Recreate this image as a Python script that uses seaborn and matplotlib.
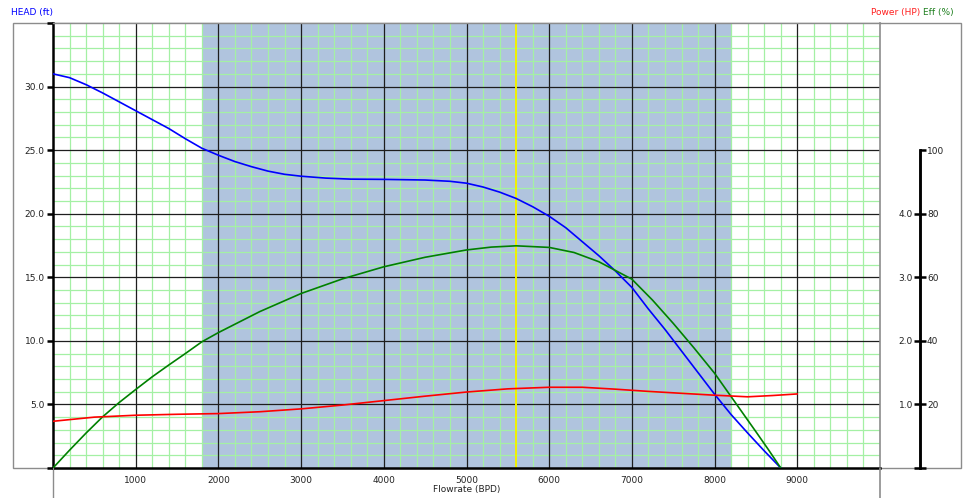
import matplotlib
matplotlib.use('Agg')
import matplotlib.pyplot as plt
from matplotlib.patches import Rectangle
from matplotlib.lines import Line2D
from matplotlib.ticker import MultipleLocator
import pandas as pd
import seaborn as sns

# pump curve data
head_q = [0, 200, 400, 600, 800, 1000, 1200, 1400, 1600, 1800, 2000, 2200, 2400, 2600, 2800,
          3000, 3300, 3600, 4000, 4500, 4800, 5000, 5200, 5400, 5600, 5800, 6000, 6200, 6400,
          6600, 6800, 7000, 7200, 7400, 7600, 7800, 8000, 8200, 8400, 8600, 8800]
head_ft = [31.0, 30.7, 30.15, 29.5, 28.8, 28.1, 27.4, 26.7, 25.9, 25.15, 24.6, 24.1, 23.7, 23.35, 23.1,
           22.95, 22.8, 22.72, 22.7, 22.65, 22.55, 22.4, 22.1, 21.7, 21.2, 20.55, 19.8, 18.9, 17.8,
           16.7, 15.5, 14.2, 12.5, 10.9, 9.2, 7.5, 5.8, 4.2, 2.75, 1.35, 0.0]

eff_q = [0, 200, 400, 600, 800, 1000, 1200, 1400, 1600, 1800, 2000, 2500, 3000, 3500, 4000, 4500,
         5000, 5300, 5600, 6000, 6300, 6600, 7000, 7250, 7500, 7750, 8000, 8250, 8500, 8650, 8800]
eff_pct = [0, 5.6, 11.0, 16.1, 20.6, 24.7, 28.7, 32.4, 36.0, 39.7, 42.6, 49.2, 54.9, 59.5, 63.3, 66.3,
           68.6, 69.5, 69.9, 69.4, 67.8, 64.9, 59.4, 52.8, 45.5, 37.8, 29.8, 20.6, 11.4, 5.8, 0.0]

power_q = [0, 500, 1000, 1500, 2000, 2500, 3000, 3500, 4000, 4500, 5000, 5500, 6000, 6400, 6800,
           7200, 7600, 8000, 8400, 8700, 9000]
power_hp = [0.735, 0.80, 0.83, 0.845, 0.856, 0.885, 0.93, 0.99, 1.06, 1.13, 1.195, 1.245, 1.27, 1.27, 1.24,
            1.205, 1.175, 1.145, 1.12, 1.14, 1.165]

range_min = 1800
range_max = 8200
bep_q = 5600

x_ticks = list(range(0, 10001, 1000))
x_labels = [''] + [str(v) for v in range(1000, 10000, 1000)] + ['']
y_ticks = list(range(0, 36, 5))
y_labels = [''] + ['%.1f' % v for v in range(5, 35, 5)] + ['']
p_ticks = [0, 1, 2, 3, 4]
p_labels = ['', '1.0', '2.0', '3.0', '4.0']
e_ticks = [0, 20, 40, 60, 80, 100]
e_labels = ['', '20', '40', '60', '80', '100']

head_df = pd.DataFrame({'q': head_q, 'head': head_ft})
eff_df = pd.DataFrame({'q': eff_q, 'eff': eff_pct})
power_df = pd.DataFrame({'q': power_q, 'power': power_hp})

sns.set_style('white')
plt.rcParams['font.family'] = ['DejaVu Sans']
plt.rcParams['font.size'] = 6.5

W, H = 970, 498
fig = plt.figure(figsize=(W / 100, H / 100), dpi=100)


def fx(px):
    return px / W


def fy(py):
    return 1 - py / H


txt = '#222222'
frame = '#8c8c8c'

# outer frame and the lines running below the plot
fig.add_artist(Rectangle((fx(13), fy(468)), 948 / W, 445 / H, transform=fig.transFigure,
                         fill=False, ec=frame, lw=1, zorder=-1))
fig.add_artist(Line2D([fx(53), fx(53)], [fy(468), 0], transform=fig.transFigure, color=frame, lw=1))
fig.add_artist(Line2D([fx(880), fx(880)], [fy(468), 0], transform=fig.transFigure, color=frame, lw=1.2))

ax = fig.add_axes([fx(53), fy(468), (880 - 53) / W, (468 - 23) / H])
ax.set_xlim(0, 10000)
ax.set_ylim(0, 35)

ax.xaxis.set_minor_locator(MultipleLocator(200))
ax.yaxis.set_minor_locator(MultipleLocator(1))
ax.grid(which='minor', color='#a4f0a4', lw=0.9)
ax.tick_params(which='minor', length=0)

ax.axvspan(range_min, range_max, color='#b0c4de', lw=0, zorder=0.2)
for v in x_ticks[1:-1]:
    ax.axvline(v, color='#1e1e1e', lw=0.9, zorder=0.7)
for v in y_ticks[1:-1]:
    ax.axhline(v, color='#1e1e1e', lw=0.9, zorder=0.7)
ax.axvline(bep_q, color='#f2f200', lw=1.4, zorder=1.5)

sns.lineplot(data=head_df, x='q', y='head', ax=ax, color='#0000ff', lw=1.2, zorder=3)

ax.set_xticks(x_ticks)
ax.set_xticklabels(x_labels)
ax.set_yticks(y_ticks)
ax.set_yticklabels(y_labels)
ax.tick_params(which='major', length=4, width=1.8, color='black', direction='out',
               pad=2, labelsize=6.5, labelcolor=txt)
ax.set_xlabel('Flowrate (BPD)', fontsize=6.5, color=txt, labelpad=0)
ax.set_ylabel('')

for side in ['left', 'bottom']:
    ax.spines[side].set_color('black')
    ax.spines[side].set_linewidth(1.8)
ax.spines['top'].set_color(frame)
ax.spines['top'].set_linewidth(1)
ax.spines['right'].set_color(frame)
ax.spines['right'].set_linewidth(1.2)

# secondary scales: efficiency and power, both on the axis at x=920 px
axis_pos = (920 - 53) / (880 - 53)

ax_e = ax.twinx()
ax_e.set_ylim(0, 140)
sns.lineplot(data=eff_df, x='q', y='eff', ax=ax_e, color='#008000', lw=1.2)
ax_e.set_ylabel('')
for s in ax_e.spines.values():
    s.set_visible(False)
ax_e.spines['right'].set_visible(True)
ax_e.spines['right'].set_position(('axes', axis_pos))
ax_e.spines['right'].set_bounds(0, 100)
ax_e.spines['right'].set_color('black')
ax_e.spines['right'].set_linewidth(1.8)
ax_e.set_yticks(e_ticks)
ax_e.set_yticklabels(e_labels)
ax_e.tick_params(axis='y', length=4, width=1.8, color='black', direction='out',
                 pad=1, labelsize=6.5, labelcolor=txt)

ax_p = ax.twinx()
ax_p.set_ylim(0, 7)
sns.lineplot(data=power_df, x='q', y='power', ax=ax_p, color='#ff0000', lw=1.2)
ax_p.set_ylabel('')
for s in ax_p.spines.values():
    s.set_visible(False)
ax_p.yaxis.tick_left()
ax_p.spines['left'].set_visible(True)
ax_p.spines['left'].set_position(('axes', axis_pos))
ax_p.spines['left'].set_bounds(0, 5)
ax_p.spines['left'].set_color('black')
ax_p.spines['left'].set_linewidth(1.8)
ax_p.set_yticks(p_ticks)
ax_p.set_yticklabels(p_labels)
ax_p.tick_params(axis='y', length=4, width=1.8, color='black', direction='out',
                 pad=1, labelsize=6.5, labelcolor=txt)

# axis captions
fig.text(fx(11), fy(12), 'HEAD (ft)', color='#0000ff', fontsize=6.5, ha='left', va='center')
fig.text(fx(920), fy(12), 'Power (HP)', color='#ff2020', fontsize=6.5, ha='right', va='center')
fig.text(fx(954), fy(12), 'Eff (%)', color='#208020', fontsize=6.5, ha='right', va='center')

fig.savefig('out.png', dpi=100)
